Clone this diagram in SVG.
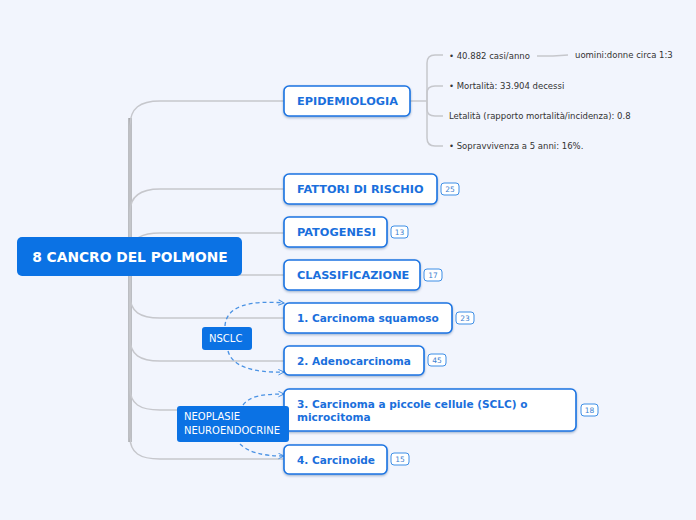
<svg xmlns="http://www.w3.org/2000/svg" width="696" height="520" viewBox="0 0 696 520">
<style>
.bg{fill:#f2f5fd}
.br{fill:none;stroke:#c6c7cc;stroke-width:1.5}
.trunk{fill:none;stroke:#a9aaae;stroke-width:3.5}
.node rect.box{fill:#fff;stroke:#1a73e2;stroke-width:1.6;filter:url(#sh)}
.lbl{font-family:"DejaVu Sans",Verdana,sans-serif;font-weight:bold;font-size:11.3px;fill:#1a6fdc}
.lbl.mx{font-size:10.55px}
.sub{font-family:"DejaVu Sans",Verdana,sans-serif;font-size:8.5px;fill:#333}
.badge rect{fill:#fff;stroke:#3d8ee6;stroke-width:1}
.badge text{font-family:"DejaVu Sans",Verdana,sans-serif;font-size:7.5px;fill:#3d7fd0;text-anchor:middle}
.dash{fill:none;stroke:#4a92e4;stroke-width:1.3;stroke-dasharray:4,3}
.tag rect{fill:#0b72e4}
.tag text{font-family:"DejaVu Sans",Verdana,sans-serif;font-size:10px;fill:#fff}
</style>
<defs>
<filter id="sh" x="-10%" y="-20%" width="120%" height="150%"><feDropShadow dx="0" dy="1.2" stdDeviation="0.8" flood-color="#003070" flood-opacity="0.35"/></filter>
<marker id="ar" viewBox="0 0 10 10" refX="9" refY="5" markerWidth="7" markerHeight="7" orient="auto" markerUnits="userSpaceOnUse"><path d="M1,1 L9,5 L1,9" fill="none" stroke="#4a92e4" stroke-width="1.4"/></marker>
</defs>
<rect class="bg" x="0" y="0" width="696" height="520"/>

<g id="connectors">
<path class="trunk" d="M130,118 L130,442"/>
<path class="br" d="M130,257 L130,126 C130,108 140,101 160,101 L284,101"/>
<path class="br" d="M130,257 L130,212 C130,196 140,189 160,189 L284,189"/>
<path class="br" d="M130,257 L130,250 C132,238 142,233 160,233 L284,233"/>
<path class="br" d="M130,257 L130,262 C132,271 142,275 160,275 L284,275"/>
<path class="br" d="M130,257 L130,295 C130,312 140,318 160,318 L284,318"/>
<path class="br" d="M130,257 L130,338 C130,355 140,361 160,361 L284,361"/>
<path class="br" d="M130,257 L130,388 C130,404 140,410 160,410 L284,410"/>
<path class="br" d="M130,257 L130,437 C130,453 140,459 160,459 L284,459"/>
<path class="br" d="M410,101 L427,101"/>
<path class="br" d="M427,101 L427,63 Q427,55 435,55 L443,55"/>
<path class="br" d="M427,101 L427,93 Q427,86 435,86 L443,86"/>
<path class="br" d="M427,101 L427,109 Q427,116 435,116 L443,116"/>
<path class="br" d="M427,101 L427,138 Q427,146 435,146 L443,146"/>
<path class="br" d="M537,56 L553,56 L568,55"/>
<path class="dash" d="M225,326 C226,306 250,300 284,303" marker-end="url(#ar)"/>
<path class="dash" d="M228,351 C232,366 252,373 284,372" marker-end="url(#ar)"/>
<path class="dash" d="M243,405 C250,396 262,394 284,394" marker-end="url(#ar)"/>
<path class="dash" d="M240,444 C248,452 262,456 284,456" marker-end="url(#ar)"/>
</g>

<g id="root">
<rect x="17" y="237" width="225" height="39" rx="5" fill="#0b72e4"/>
<text x="130" y="262" text-anchor="middle" font-family="DejaVu Sans,Verdana,sans-serif" font-weight="bold" font-size="13.8" fill="#fff">8 CANCRO DEL POLMONE</text>
</g>

<g id="n-epid" class="node"><rect class="box" x="284" y="86" width="126" height="30" rx="5"/><text class="lbl" x="297" y="105">EPIDEMIOLOGIA</text></g>
<g id="n-fattori" class="node"><rect class="box" x="284" y="174" width="153" height="30" rx="5"/><text class="lbl" x="297" y="193">FATTORI DI RISCHIO</text></g>
<g id="n-pato" class="node"><rect class="box" x="284" y="217" width="103" height="30" rx="5"/><text class="lbl" x="297" y="236">PATOGENESI</text></g>
<g id="n-class" class="node"><rect class="box" x="284" y="260" width="136" height="30" rx="5"/><text class="lbl" x="297" y="279">CLASSIFICAZIONE</text></g>
<g id="n-1" class="node"><rect class="box" x="284" y="303" width="168" height="30" rx="5"/><text class="lbl mx" x="297" y="322">1. Carcinoma squamoso</text></g>
<g id="n-2" class="node"><rect class="box" x="284" y="346" width="140" height="29" rx="5"/><text class="lbl mx" x="297" y="365">2. Adenocarcinoma</text></g>
<g id="n-3" class="node"><rect class="box" x="284" y="389" width="292" height="42" rx="5"/><text class="lbl mx" x="297" y="408">3. Carcinoma a piccole cellule (SCLC) o</text><text class="lbl mx" x="297" y="421">microcitoma</text></g>
<g id="n-4" class="node"><rect class="box" x="284" y="445" width="103" height="29" rx="5"/><text class="lbl mx" x="297" y="464">4. Carcinoide</text></g>

<g id="b25" class="badge"><rect x="441" y="183" width="18" height="12" rx="3"/><text x="450" y="192">25</text></g>
<g id="b13" class="badge"><rect x="391" y="226" width="17" height="12" rx="3"/><text x="399.5" y="235">13</text></g>
<g id="b17" class="badge"><rect x="424" y="269" width="18" height="12" rx="3"/><text x="433" y="278">17</text></g>
<g id="b23" class="badge"><rect x="456" y="312" width="18" height="12" rx="3"/><text x="465" y="321">23</text></g>
<g id="b45" class="badge"><rect x="428" y="354" width="18" height="12" rx="3"/><text x="437" y="363">45</text></g>
<g id="b18" class="badge"><rect x="581" y="404" width="17" height="12" rx="3"/><text x="589.5" y="413">18</text></g>
<g id="b15" class="badge"><rect x="391" y="453" width="18" height="12" rx="3"/><text x="400" y="462">15</text></g>

<g id="s1"><text class="sub" x="449" y="59">• 40.882 casi/anno</text></g>
<g id="s1a"><text class="sub" x="575" y="58">uomini:donne circa 1:3</text></g>
<g id="s2"><text class="sub" x="449" y="89">• Mortalità: 33.904 decessi</text></g>
<g id="s3"><text class="sub" x="449" y="119">Letalità (rapporto mortalità/incidenza): 0.8</text></g>
<g id="s4"><text class="sub" x="449" y="149">• Sopravvivenza a 5 anni: 16%.</text></g>

<g id="t-nsclc" class="tag"><rect x="202" y="327" width="50" height="23" rx="3"/><text x="209" y="342">NSCLC</text></g>
<g id="t-neo" class="tag"><rect x="177" y="406" width="112" height="36" rx="3"/><text x="184" y="420">NEOPLASIE</text><text x="184" y="434">NEUROENDOCRINE</text></g>
</svg>
